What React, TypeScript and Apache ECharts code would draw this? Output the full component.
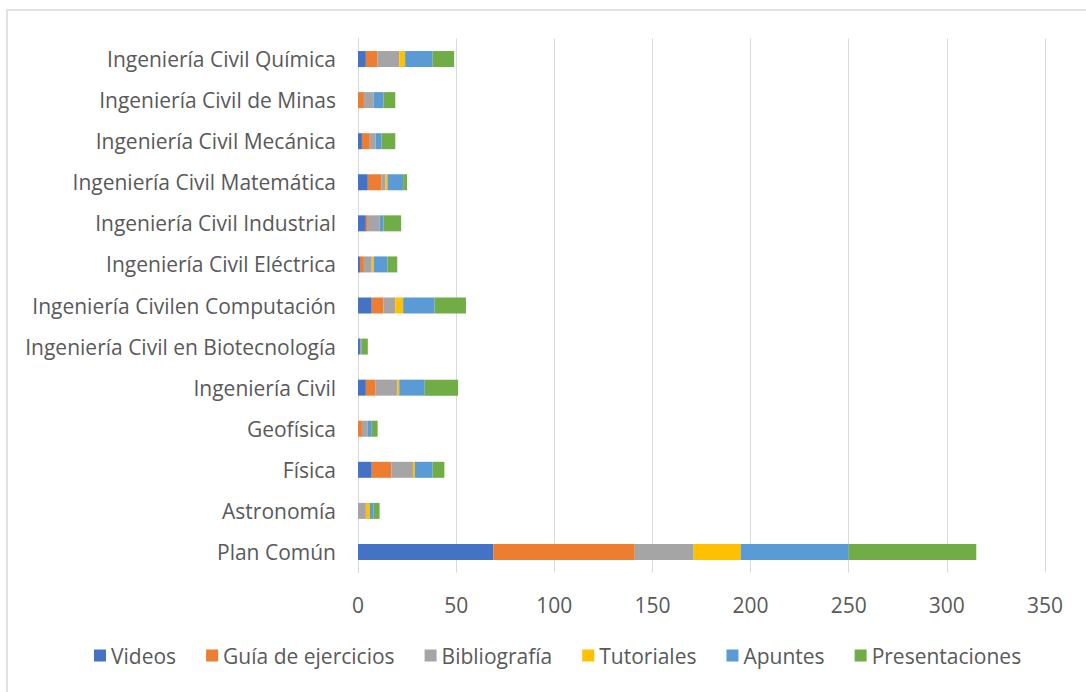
import React, { useEffect, useRef } from "react";
import * as echarts from "echarts";

const categories = [
  "Plan Común",
  "Astronomía",
  "Física",
  "Geofísica",
  "Ingeniería Civil",
  "Ingeniería Civil en Biotecnología",
  "Ingeniería Civilen Computación",
  "Ingeniería Civil Eléctrica",
  "Ingeniería Civil Industrial",
  "Ingeniería Civil Matemática",
  "Ingeniería Civil Mecánica",
  "Ingeniería Civil de Minas",
  "Ingeniería Civil Química",
];

const videos = [69, 0, 7, 0, 4, 1, 7, 1, 4, 5, 2, 0, 4];
const guia = [72, 0, 10, 2, 5, 0, 6, 2, 1, 7, 4, 3, 6];
const bibliografia = [30, 4, 11, 3, 11, 1, 6, 4, 6, 2, 3, 5, 11];
const tutoriales = [24, 2, 1, 0, 1, 0, 4, 1, 0, 1, 0, 0, 3];
const apuntes = [55, 2, 9, 2, 13, 0, 16, 7, 2, 8, 3, 5, 14];
const presentaciones = [65, 3, 6, 3, 17, 3, 16, 5, 9, 2, 7, 6, 11];

const seriesNames = ["Videos", "Guía de ejercicios", "Bibliografía", "Tutoriales", "Apuntes", "Presentaciones"];
const seriesData = [videos, guia, bibliografia, tutoriales, apuntes, presentaciones];
const colors = ["#4472C4", "#ED7D31", "#A5A5A5", "#FFC000", "#5B9BD5", "#70AD47"];
const xTicks = [0, 50, 100, 150, 200, 250, 300, 350];

const FONT = "Open Sans";
const FS = 21;

export default function App() {
  const ref = useRef<HTMLDivElement>(null);
  useEffect(() => {
    const chart = echarts.init(ref.current!, null, { renderer: "svg" });
    chart.setOption({
      animation: false,
      backgroundColor: "#ffffff",
      color: colors,
      graphic: [
        {
          type: "rect",
          shape: { x: 7, y: 10, width: 1100, height: 700 },
          style: { fill: "none", stroke: "#d9d9d9", lineWidth: 1.5 },
          silent: true,
        },
      ],
      grid: { left: 358, right: 41, top: 38.5, bottom: 119.5, containLabel: false },
      legend: {
        bottom: 21,
        left: 89,
        itemWidth: 12,
        itemHeight: 12,
        itemGap: 30,
        icon: "rect",
        textStyle: { fontFamily: FONT, fontSize: FS, color: "#595959", padding: [0, 0, 0, 0] },
        data: seriesNames,
      },
      xAxis: {
        type: "value",
        min: xTicks[0],
        max: xTicks[xTicks.length - 1],
        interval: 50,
        axisLine: { show: false },
        axisTick: { show: false },
        splitLine: { lineStyle: { color: "#d9d9d9", width: 1 } },
        axisLabel: { fontFamily: FONT, fontSize: FS, color: "#595959", margin: 22 },
      },
      yAxis: {
        type: "category",
        data: categories,
        axisLine: { show: true, lineStyle: { color: "#d9d9d9", width: 1 } },
        axisTick: { show: false },
        axisLabel: { fontFamily: FONT, fontSize: FS, color: "#595959", margin: 22 },
      },
      series: seriesNames.map((name, i) => ({
        name,
        type: "bar",
        stack: "total",
        barWidth: 16,
        data: seriesData[i],
        itemStyle: { color: colors[i] },
      })),
    });
    return () => chart.dispose();
  }, []);
  return <div ref={ref} style={{ position: "fixed", left: 0, top: 0, width: 1086, height: 692 }} />;
}
